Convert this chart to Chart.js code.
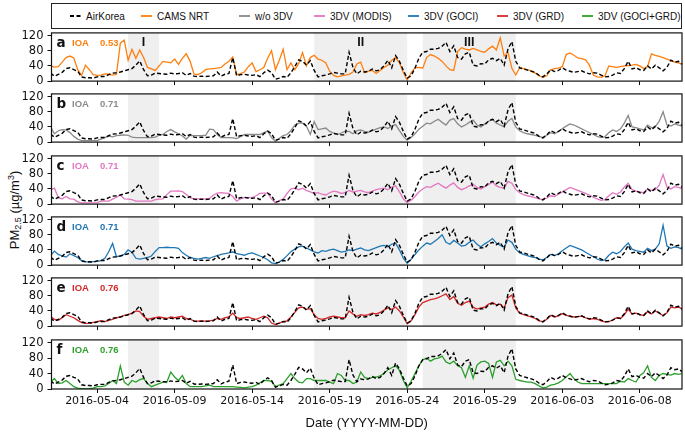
<!DOCTYPE html>
<html>
<head>
<meta charset="utf-8">
<title>PM2.5 time series, AirKorea vs model runs</title>
<script src="https://cdn.jsdelivr.net/npm/chart.js@4.4.1/dist/chart.umd.min.js"></script>
<style>
  body { margin: 0; background: #fff; }
  #wrap { position: relative; width: 685px; height: 434px; overflow: hidden;
          font-family: "Liberation Sans", Arial, sans-serif; color: #111; }
  #legend { position: absolute; left: 51px; top: 3px; width: 631px; height: 26px;
            border: 1.3px solid #222; box-sizing: border-box; }
  .item { position: absolute; top: 0; height: 100%; display: flex; align-items: center;
          font-size: 10px; white-space: nowrap; }
  .item svg { margin-right: 5px; }
  .panel { position: absolute; left: 0; width: 685px; }
  #ytitle { position: absolute; left: 14px; top: 210px; transform: translate(-50%, -50%) rotate(-90deg);
            font-size: 13px; white-space: nowrap; color: #111; }
  #ytitle sub { font-size: 9px; vertical-align: -2px; }
  #ytitle sup { font-size: 9px; vertical-align: 5px; }
</style>
</head>
<body>
<div id="wrap">
  <div id="legend"></div>
  <div id="ytitle">PM<sub>2.5</sub> (µg/m<sup>3</sup>)</div>
</div>
<script>
// time axis: days since 2016-05-01 00:00, one value every 6 hours
const START_DATE = "2016-05-01";
const STEP_DAYS = 0.25;
const X_MIN = 0.06;
const X_MAX = 40.72;

const TICK_DAYS = [3, 8, 13, 18, 23, 28, 33, 38];
const TICK_LABELS = ["2016-05-04", "2016-05-09", "2016-05-14", "2016-05-19",
                     "2016-05-24", "2016-05-29", "2016-06-03", "2016-06-08"];
const Y_TICKS = [0, 40, 80, 120];
const Y_MAX = 127;

// shaded episodes (day offsets) and their labels
const SHADE_SPANS = [[5, 7], [17, 23], [24, 30]];
const SHADE_LABELS = ["I", "II", "III"];

const SERIES_NAMES = ["AirKorea", "CAMS NRT", "w/o 3DV", "3DV (MODIS)", "3DV (GOCI)", "3DV (GRD)", "3DV (GOCI+GRD)"];
const SERIES_COLORS = ["#000000", "#ff7f0e", "#8a8a8a", "#e377c2", "#1f77b4", "#d62728", "#2ca02c"];
const PANEL_LETTERS = ["a", "b", "c", "d", "e", "f"];
const IOA_VALUES = ["0.53", "0.71", "0.71", "0.71", "0.76", "0.76"];

// observed
const AIRKOREA = [
  21,13,18,23, 33,35,30,26, 11,9,9,8, 11,12,12,17, 21,22,24,27,
  30,33,42,53, 30,14,16,21, 20,19,18,21, 19,20,22,15, 20,13,12,13,
  12,13,14,24, 13,18,20,62, 14,17,18,16, 15,17,12,22, 29,22,5,8,
  12,10,22,38, 56,52,42,54, 28,11,14,16, 19,23,21,19, 19,76,36,19,
  26,24,26,32, 27,30,40,55, 35,67,52,28, 8,14,34,60, 76,78,84,84,
  86,92,102,78, 93,62,58,72, 76,42,40,46, 45,56,60,54, 60,42,85,104,
  52,35,32,29, 26,23,15,11, 19,30,25,28, 35,29,26,23, 25,27,22,19,
  22,21,16,11, 12,16,22,20, 33,52,32,35, 30,28,40,32, 42,35,27,36,
  55,50,52,44
];
const CAMS_NRT = [
  40,37,38,50, 62,66,61,30, 15,42,30,17, 15,16,19,18, 16,18,100,108,
  55,84,60,82, 62,36,32,28, 40,52,50,48, 58,44,60,72, 52,18,17,22,
  30,32,33,34, 36,45,52,64, 17,20,24,38, 48,25,30,36, 60,80,30,55,
  84,30,48,30, 46,75,40,62, 68,58,55,48, 26,15,11,14, 16,18,24,45,
  50,22,26,28, 20,28,36,42, 55,62,48,22, 3,22,35,36, 34,62,70,66,
  60,52,40,30, 28,78,88,84, 82,86,82,78, 76,85,92,82, 114,66,75,34,
  16,35,33,30, 27,21,14,10, 14,30,33,34, 38,70,74,68, 61,59,56,42,
  16,11,10,14, 40,38,36,38, 40,41,42,44, 40,33,38,72, 68,65,62,58,
  54,50,48,44
];
const WO_3DV = [
  40,22,30,33, 32,25,15,8, 4,4,4,4, 4,8,12,16, 14,17,18,19,
  18,13,12,12, 12,12,12,13, 18,20,28,33, 27,22,16,8, 18,17,17,17,
  18,34,33,20, 12,12,12,11, 9,14,20,20, 20,20,20,25, 29,12,2,10,
  17,20,30,45, 50,50,42,20, 54,33,35,37, 28,24,20,24, 29,28,22,30,
  32,28,26,30, 34,38,40,36, 42,46,30,15, 5,12,22,34, 42,50,48,55,
  60,52,45,58, 62,48,40,45, 52,58,45,40, 48,55,60,50, 45,40,55,62,
  40,30,25,22, 20,18,15,12, 18,25,22,28, 35,42,48,45, 40,35,30,25,
  20,15,12,14, 25,32,28,35, 50,70,40,38, 35,32,45,38, 40,55,80,45,
  42,48,45,42
];
const DV_MODIS = [
  38,42,17,14, 20,14,13,6, 3,3,3,3, 4,8,8,8, 13,18,24,14,
  13,12,8,8, 8,8,8,12, 13,14,25,34, 34,35,33,25, 17,14,14,14,
  14,15,24,29, 30,29,28,20, 8,14,17,17, 17,22,28,29, 29,13,3,9,
  13,28,40,42, 38,42,36,32, 28,30,26,24, 30,34,32,28, 30,36,32,34,
  36,32,30,34, 38,40,42,38, 45,48,32,14, 4,10,20,32, 40,46,44,50,
  55,48,42,50, 56,44,38,42, 48,52,44,40, 46,52,58,48, 44,42,60,55,
  38,30,25,22, 20,17,14,12, 16,22,20,26, 32,38,44,40, 36,32,28,24,
  18,14,10,12, 22,30,26,32, 45,55,38,34, 32,30,40,36, 38,50,78,45,
  40,46,44,40
];
const DV_GOCI = [
  25,37,28,24, 21,30,25,20, 12,9,8,9, 10,12,18,35, 57,22,24,28,
  40,34,18,16, 18,20,24,36, 46,46,47,46, 46,44,33,26, 20,18,16,18,
  20,18,22,25, 28,30,32,35, 30,28,26,30, 32,28,24,20, 14,6,4,8,
  15,25,35,42, 48,50,45,40, 35,32,38,36, 40,42,38,34, 36,40,38,42,
  45,40,38,42, 46,50,52,48, 55,58,40,18, 5,15,28,40, 50,58,55,62,
  70,80,60,55, 65,58,50,52, 60,66,55,48, 56,62,70,58, 52,48,66,60,
  42,32,28,25, 22,20,16,14, 20,28,25,30, 38,45,52,48, 44,40,34,28,
  22,16,12,14, 26,34,30,36, 48,58,42,38, 36,34,44,38, 42,56,105,50,
  44,48,46,42
];
const DV_GRD = [
  25,18,15,22, 30,26,22,15, 9,7,8,10, 12,14,12,15, 18,22,24,28,
  30,34,40,38, 26,18,20,22, 24,22,20,24, 22,24,26,20, 18,14,13,14,
  13,14,16,20, 18,22,24,34, 22,20,22,24, 20,18,22,26, 22,8,4,8,
  12,14,24,36, 48,50,44,46, 30,20,18,20, 24,26,24,22, 22,40,32,26,
  30,28,30,34, 32,36,42,48, 44,50,40,24, 6,14,30,50, 62,66,70,72,
  75,80,85,70, 78,60,55,62, 66,50,45,48, 50,58,62,56, 58,48,75,82,
  48,34,30,27, 24,20,14,12, 18,28,24,27, 33,28,26,24, 25,26,22,18,
  20,18,14,11, 12,16,22,20, 30,45,32,34, 30,28,38,32, 40,34,28,35,
  50,48,50,45
];
const DV_GOCI_GRD = [
  18,27,14,16, 22,14,6,2, 1,1,1,2, 6,6,8,14, 22,14,60,18,
  10,22,18,24, 27,14,6,10, 14,18,18,44, 31,22,35,14, 6,6,6,6,
  8,10,6,6, 6,6,6,6, 5,4,3,5, 6,10,16,22, 22,20,6,10,
  14,27,40,27, 18,16,27,27, 22,22,22,22, 18,14,40,35, 22,22,14,18,
  44,30,27,30, 31,34,40,50, 55,60,48,22, 3,20,40,60, 75,80,72,78,
  80,85,70,65, 72,60,55,30, 60,28,62,70, 72,66,30,70, 74,60,72,60,
  25,22,20,18, 18,14,8,3, 5,10,12,16, 22,31,40,27, 18,14,14,14,
  14,14,14,14, 14,14,14,20, 18,27,22,18, 35,42,60,30, 22,35,40,38,
  36,40,38,40
];
const MODEL_SERIES = [CAMS_NRT, WO_3DV, DV_MODIS, DV_GOCI, DV_GRD, DV_GOCI_GRD];

// layout
const PANEL_TOPS = [32, 93, 155, 216, 277, 339];
const PANEL_H = 50;
const PAD_TOP = 10;
const PLOT_LEFT = 51.5;
const PAD_RIGHT = 3;
const LEGEND_OFFSETS = [18, 89, 187, 262, 356, 445, 530];
const INK = "#111";

const wrap = document.getElementById("wrap");

function toPoints(values) {
  return values.map((v, i) => ({ x: i * STEP_DAYS, y: v }));
}

function buildLegend() {
  const legend = document.getElementById("legend");
  SERIES_NAMES.forEach((name, i) => {
    const item = document.createElement("div");
    item.className = "item";
    item.style.left = LEGEND_OFFSETS[i] + "px";
    const dash = i === 0 ? ' stroke-dasharray="4 2.5"' : "";
    item.innerHTML =
      `<svg width="11" height="4"><line x1="0" y1="2" x2="11" y2="2" stroke="${SERIES_COLORS[i]}" stroke-width="1.8"${dash}/></svg>` +
      `<span>${name}</span>`;
    legend.appendChild(item);
  });
}

const panelDecor = {
  id: "panelDecor",
  beforeDatasetsDraw(chart) {
    const { ctx, chartArea: a, scales: { x } } = chart;
    ctx.save();
    ctx.fillStyle = "#efefef";
    SHADE_SPANS.forEach(([s, e]) => {
      const x0 = x.getPixelForValue(s);
      const x1 = x.getPixelForValue(e);
      ctx.fillRect(x0, a.top, x1 - x0, a.bottom - a.top);
    });
    ctx.restore();
  },
  afterDraw(chart, args, opts) {
    const { ctx, chartArea: a, scales: { x } } = chart;
    const i = opts.index;
    ctx.save();
    ctx.strokeStyle = INK;
    ctx.lineWidth = 1.2;
    ctx.strokeRect(a.left, a.top, a.right - a.left, a.bottom - a.top);

    ctx.fillStyle = INK;
    ctx.textBaseline = "alphabetic";
    ctx.textAlign = "left";
    ctx.font = 'bold 13.5px "DejaVu Sans"';
    ctx.fillText(PANEL_LETTERS[i], a.left + 5, a.top + 14);

    ctx.fillStyle = SERIES_COLORS[i + 1];
    ctx.font = 'bold 9.5px "Liberation Sans"';
    ctx.fillText("IOA", a.left + 20.5, a.top + 13);
    ctx.fillText(IOA_VALUES[i], a.left + 48.5, a.top + 13);

    if (i === 0) {
      ctx.fillStyle = INK;
      ctx.textAlign = "center";
      ctx.font = 'bold 12.5px "Liberation Sans"';
      SHADE_SPANS.forEach(([s, e], k) => {
        ctx.fillText(SHADE_LABELS[k], x.getPixelForValue((s + e) / 2), a.top + 13.5);
      });
    }
    ctx.restore();
  }
};

function makePanel(i) {
  const isLast = i === PANEL_TOPS.length - 1;
  const top = PANEL_TOPS[i] - PAD_TOP;
  const h = isLast ? 434 - top : PAD_TOP + PANEL_H + 10;
  const div = document.createElement("div");
  div.className = "panel";
  div.style.top = top + "px";
  div.style.height = h + "px";
  const canvas = document.createElement("canvas");
  canvas.width = 685;
  canvas.height = h;
  div.appendChild(canvas);
  wrap.appendChild(div);

  new Chart(canvas, {
    type: "line",
    data: {
      datasets: [
        {
          label: SERIES_NAMES[0],
          data: toPoints(AIRKOREA),
          borderColor: SERIES_COLORS[0],
          borderWidth: 1.4,
          borderDash: [4, 2.4],
          pointRadius: 0,
          order: 0,
        },
        {
          label: SERIES_NAMES[i + 1],
          data: toPoints(MODEL_SERIES[i]),
          borderColor: SERIES_COLORS[i + 1],
          borderWidth: 1.3,
          pointRadius: 0,
          order: 1,
        },
      ],
    },
    options: {
      responsive: false,
      animation: false,
      events: [],
      layout: { padding: { top: PAD_TOP, right: PAD_RIGHT, bottom: isLast ? 0 : 4, left: 0 } },
      scales: {
        x: {
          type: "linear",
          min: X_MIN,
          max: X_MAX,
          afterBuildTicks(scale) {
            scale.ticks = TICK_DAYS.map((v) => ({ value: v }));
          },
          afterFit(scale) {
            scale.height = isLast ? h - PAD_TOP - PANEL_H : 6;
          },
          ticks: {
            display: isLast,
            autoSkip: false,
            maxRotation: 0,
            padding: 2,
            color: INK,
            font: { family: "DejaVu Sans", size: 11 },
            callback: (value) => TICK_LABELS[TICK_DAYS.indexOf(value)],
          },
          grid: { drawOnChartArea: false, drawTicks: true, tickLength: 4, color: INK },
          border: { display: false },
          title: {
            display: isLast,
            text: "Date (YYYY-MM-DD)",
            color: INK,
            font: { family: "Liberation Sans", size: 13 },
            padding: { top: 0, bottom: 3 },
          },
        },
        y: {
          min: 0,
          max: Y_MAX,
          afterBuildTicks(scale) {
            scale.ticks = Y_TICKS.map((v) => ({ value: v }));
          },
          afterFit(scale) {
            scale.width = PLOT_LEFT;
          },
          ticks: { autoSkip: false, padding: 4, color: INK, font: { family: "DejaVu Sans", size: 11.5 } },
          grid: { drawOnChartArea: false, drawTicks: true, tickLength: 4, color: INK },
          border: { display: false },
        },
      },
      plugins: {
        legend: { display: false },
        tooltip: { enabled: false },
        panelDecor: { index: i },
      },
    },
    plugins: [panelDecor],
  });
}

buildLegend();
PANEL_TOPS.forEach((_, i) => makePanel(i));
</script>
</body>
</html>
